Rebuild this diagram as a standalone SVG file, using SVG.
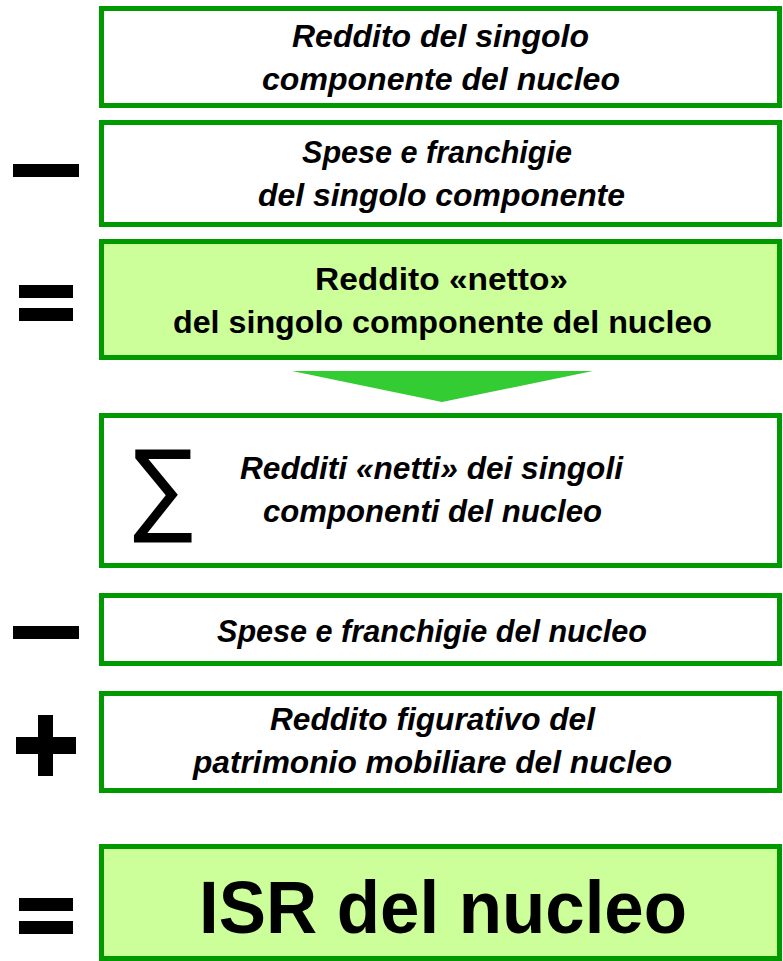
<svg xmlns="http://www.w3.org/2000/svg" width="783" height="961" viewBox="0 0 783 961">
<style>
.box{fill:#ffffff;stroke:#009900;stroke-width:5}
.hl{fill:#ccff99;stroke:#009900;stroke-width:5}
.ti{font-family:"Liberation Sans",Arial,sans-serif;font-style:italic;font-weight:bold;font-size:31px;fill:#000}
.tb{font-family:"Liberation Sans",Arial,sans-serif;font-weight:bold;font-size:31px;fill:#000}
.big{font-family:"Liberation Sans",Arial,sans-serif;font-weight:bold;font-size:75px;fill:#000}
.op{fill:#000}
</style>
<rect width="783" height="961" fill="#ffffff"/>
<g id="op-minus1" class="op"><rect x="13" y="164" width="66" height="13"/></g>
<g id="op-equals1" class="op"><rect x="19" y="285" width="54" height="13"/><rect x="19" y="308" width="54" height="13"/></g>
<g id="op-minus2" class="op"><rect x="13" y="626" width="66" height="13"/></g>
<g id="op-plus" class="op"><rect x="16" y="737" width="60" height="17"/><rect x="38" y="715" width="15" height="61"/></g>
<g id="op-equals2" class="op"><rect x="19" y="898" width="54" height="13"/><rect x="19" y="921" width="54" height="13"/></g>

<g id="box1">
<rect class="box" x="101.5" y="8.5" width="678" height="97"/>
<text class="ti" x="292" y="47" textLength="297" lengthAdjust="spacingAndGlyphs">Reddito del singolo</text>
<text class="ti" x="262" y="90" textLength="358" lengthAdjust="spacingAndGlyphs">componente del nucleo</text>
</g>
<g id="box2">
<rect class="box" x="101.5" y="122.5" width="678" height="102"/>
<text class="ti" x="302" y="163" textLength="270" lengthAdjust="spacingAndGlyphs">Spese e franchigie</text>
<text class="ti" x="258" y="206" textLength="367" lengthAdjust="spacingAndGlyphs">del singolo componente</text>
</g>
<g id="box3">
<rect class="hl" x="101.5" y="241.5" width="678" height="116"/>
<text class="tb" x="315" y="290" textLength="253" lengthAdjust="spacingAndGlyphs">Reddito «netto»</text>
<text class="tb" x="173" y="333" textLength="539" lengthAdjust="spacingAndGlyphs">del singolo componente del nucleo</text>
</g>
<g id="connectors">
<polygon points="292,371 593,371 442,402" fill="#33cc33"/>
</g>
<g id="box4">
<rect class="box" x="101.5" y="415.5" width="678" height="150"/>
<text transform="translate(133,522.5) scale(0.88,1)" x="0" y="0" font-family="DejaVu Sans,sans-serif" font-size="102" fill="#000">∑</text>
<text class="ti" x="240" y="479" textLength="383" lengthAdjust="spacingAndGlyphs">Redditi «netti» dei singoli</text>
<text class="ti" x="263" y="522" textLength="339" lengthAdjust="spacingAndGlyphs">componenti del nucleo</text>
</g>
<g id="box5">
<rect class="box" x="101.5" y="595.5" width="678" height="68"/>
<text class="ti" x="217" y="642" textLength="430" lengthAdjust="spacingAndGlyphs">Spese e franchigie del nucleo</text>
</g>
<g id="box6">
<rect class="box" x="101.5" y="693.5" width="678" height="97"/>
<text class="ti" x="270" y="730" textLength="325" lengthAdjust="spacingAndGlyphs">Reddito figurativo del</text>
<text class="ti" x="193" y="773" textLength="479" lengthAdjust="spacingAndGlyphs">patrimonio mobiliare del nucleo</text>
</g>
<g id="box7">
<rect class="hl" x="101.5" y="846.5" width="678" height="112"/>
<text class="big" x="199" y="933" textLength="488" lengthAdjust="spacingAndGlyphs">ISR del nucleo</text>
</g>
</svg>
